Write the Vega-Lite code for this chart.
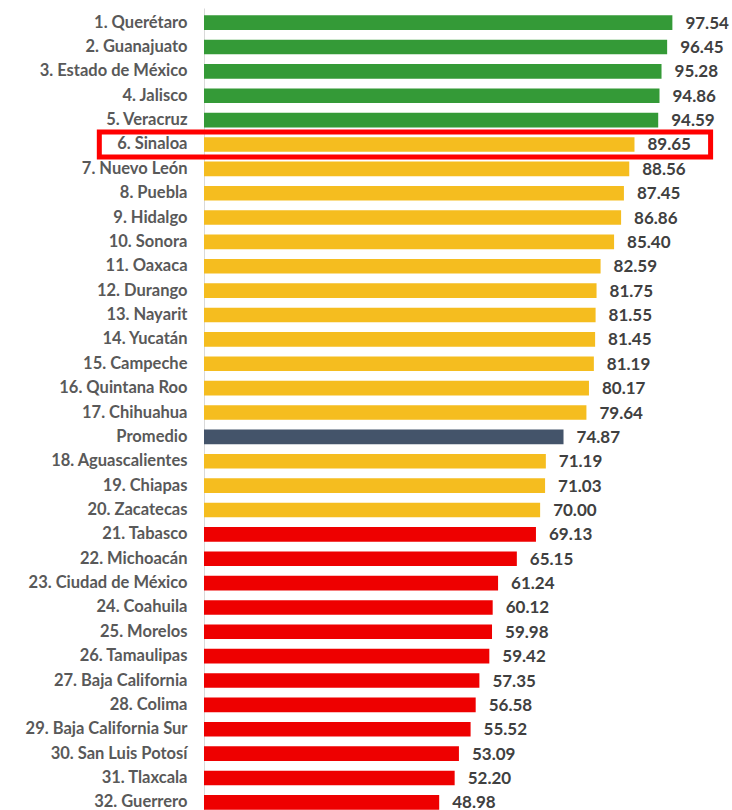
{
  "$schema": "https://vega.github.io/schema/vega-lite/v6.json",
  "autosize": "none",
  "width": 509,
  "height": 809,
  "padding": {"left": 204, "top": 8, "right": 19, "bottom": 0},
  "background": "white",
  "config": {"view": {"stroke": null}},
  "data": {"values": [
    {"estado": "1. Querétaro", "valor": 97.54, "grupo": "alto"},
    {"estado": "2. Guanajuato", "valor": 96.45, "grupo": "alto"},
    {"estado": "3. Estado de México", "valor": 95.28, "grupo": "alto"},
    {"estado": "4. Jalisco", "valor": 94.86, "grupo": "alto"},
    {"estado": "5. Veracruz", "valor": 94.59, "grupo": "alto"},
    {"estado": "6. Sinaloa", "valor": 89.65, "grupo": "medio"},
    {"estado": "7. Nuevo León", "valor": 88.56, "grupo": "medio"},
    {"estado": "8. Puebla", "valor": 87.45, "grupo": "medio"},
    {"estado": "9. Hidalgo", "valor": 86.86, "grupo": "medio"},
    {"estado": "10. Sonora", "valor": 85.40, "grupo": "medio"},
    {"estado": "11. Oaxaca", "valor": 82.59, "grupo": "medio"},
    {"estado": "12. Durango", "valor": 81.75, "grupo": "medio"},
    {"estado": "13. Nayarit", "valor": 81.55, "grupo": "medio"},
    {"estado": "14. Yucatán", "valor": 81.45, "grupo": "medio"},
    {"estado": "15. Campeche", "valor": 81.19, "grupo": "medio"},
    {"estado": "16. Quintana Roo", "valor": 80.17, "grupo": "medio"},
    {"estado": "17. Chihuahua", "valor": 79.64, "grupo": "medio"},
    {"estado": "Promedio", "valor": 74.87, "grupo": "promedio"},
    {"estado": "18. Aguascalientes", "valor": 71.19, "grupo": "medio"},
    {"estado": "19. Chiapas", "valor": 71.03, "grupo": "medio"},
    {"estado": "20. Zacatecas", "valor": 70.00, "grupo": "medio"},
    {"estado": "21. Tabasco", "valor": 69.13, "grupo": "bajo"},
    {"estado": "22. Michoacán", "valor": 65.15, "grupo": "bajo"},
    {"estado": "23. Ciudad de México", "valor": 61.24, "grupo": "bajo"},
    {"estado": "24. Coahuila", "valor": 60.12, "grupo": "bajo"},
    {"estado": "25. Morelos", "valor": 59.98, "grupo": "bajo"},
    {"estado": "26. Tamaulipas", "valor": 59.42, "grupo": "bajo"},
    {"estado": "27. Baja California", "valor": 57.35, "grupo": "bajo"},
    {"estado": "28. Colima", "valor": 56.58, "grupo": "bajo"},
    {"estado": "29. Baja California Sur", "valor": 55.52, "grupo": "bajo"},
    {"estado": "30. San Luis Potosí", "valor": 53.09, "grupo": "bajo"},
    {"estado": "31. Tlaxcala", "valor": 52.20, "grupo": "bajo"},
    {"estado": "32. Guerrero", "valor": 48.98, "grupo": "bajo"}
  ]},
  "encoding": {
    "y": {
      "field": "estado", "type": "nominal", "sort": null,
      "scale": {"paddingInner": 0.4, "paddingOuter": 0.3},
      "axis": {
        "title": null, "ticks": false, "domain": true, "domainColor": "#d9d9d9", "domainWidth": 1,
        "labelFont": "Lato", "labelFontSize": 16.5, "labelFontWeight": "bold", "labelColor": "#595959",
        "labelPadding": 17, "labelLimit": 300
      }
    }
  },
  "layer": [
    {
      "mark": {"type": "bar"},
      "encoding": {
        "x": {"field": "valor", "type": "quantitative", "scale": {"domain": [0, 106], "nice": false}, "axis": null},
        "color": {
          "field": "grupo", "type": "nominal", "legend": null,
          "scale": {"domain": ["alto", "medio", "promedio", "bajo"], "range": ["#349a37", "#f5bd1f", "#44546a", "#ee0000"]}
        }
      }
    },
    {
      "mark": {"type": "text", "align": "left", "baseline": "middle", "dx": 13, "dy": 1, "font": "Lato", "fontSize": 17, "fontWeight": "bold", "color": "#404040"},
      "encoding": {
        "x": {"field": "valor", "type": "quantitative"},
        "text": {"field": "valor", "type": "quantitative", "format": ".2f"}
      }
    },
    {
      "transform": [{"filter": "datum.estado === '6. Sinaloa'"}],
      "mark": {"type": "bar", "height": {"band": 1.71}, "fillOpacity": 0, "stroke": "#ff0000", "strokeWidth": 5, "clip": false},
      "encoding": {
        "x": {"datum": -21.8, "type": "quantitative"},
        "x2": {"datum": 105.5}
      }
    }
  ]
}
